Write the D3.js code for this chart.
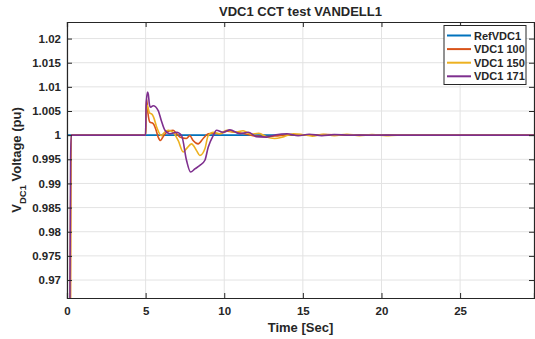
<!DOCTYPE html>
<html><head><meta charset="utf-8">
<script src="https://cdn.jsdelivr.net/npm/d3@7"></script>
<style>
body{margin:0;background:#fff;}
text{font-family:"Liberation Sans",Arial,sans-serif;font-weight:bold;fill:#262626;}
</style></head>
<body><svg id="chart" width="535" height="339"></svg>
<script>
// ---- data ----
const seriesNames = ["RefVDC1", "VDC1 100", "VDC1 150", "VDC1 171"];
const seriesColors = ["#0072BD", "#D95319", "#EDB120", "#7E2F8E"];
const xTicks = [0, 5, 10, 15, 20, 25];
const yTicks = [0.97, 0.975, 0.98, 0.985, 0.99, 0.995, 1, 1.005, 1.01, 1.015, 1.02];
const yTickLabels = ["0.97","0.975","0.98","0.985","0.99","0.995","1","1.005","1.01","1.015","1.02"];

const tRef = [0, 29.7];
const vRef = [1, 1];

const t100 = [0,0.17,0.22,0.26,5.0,5.02,5.06,5.15,5.27,5.48,5.65,5.8,5.95,6.1,6.33,6.75,7.0,7.18,7.6,7.81,8.02,8.34,8.66,8.98,9.3,9.7,10.2,10.7,11.3,12.0,12.7,13.5,14.5,15.5,16.5,18,20,29.7];
const v100 = [0.9,0.9,0.97,1.0,1.0,1.004,1.0075,1.0045,1.0027,1.0024,1.0012,0.9996,0.9989,0.9996,1.0006,1.001,1.0002,0.9996,0.9993,0.9999,0.9989,0.9982,0.9993,1.0003,1.0004,1.0003,1.0008,1.0006,1.0003,0.9998,0.9997,0.9999,1.0001,1.0,1.0001,1.0,1.0,1.0];

const t150 = [0,0.17,0.22,0.26,5.0,5.03,5.1,5.25,5.38,5.5,5.7,6.0,6.2,6.44,6.75,7.07,7.39,7.6,7.92,8.24,8.45,8.77,8.98,9.3,9.72,10.15,10.67,11.2,11.7,12.2,12.7,13.2,13.8,14.4,15.0,15.6,16.3,17.0,17.8,18.6,19.4,20.3,21,29.7];
const v150 = [0.9,0.9,0.97,1.0,1.0,1.004,1.0062,1.0046,1.0044,1.0038,1.0017,0.9999,1.0006,1.001,1.0006,0.9989,0.9965,0.9972,0.9982,0.9968,0.9958,0.9972,0.9999,1.0006,1.0003,1.001,1.0006,1.0009,1.0002,1.0004,0.9996,0.9993,0.9997,1.0003,1.0001,0.9998,1.0002,0.9999,1.0002,0.9999,1.0001,0.9999,1.0,1.0];

const t171 = [0,0.16,0.19,0.23,0.27,5.0,5.03,5.12,5.17,5.25,5.32,5.48,5.8,6.0,6.23,6.54,6.97,7.29,7.6,7.86,8.13,8.45,8.77,8.98,9.3,9.51,9.93,10.36,10.99,11.52,12.05,12.69,13.3,14.0,14.7,15.4,16.2,17.0,18.0,19.0,29.7];
const v171 = [0.9,0.9,0.97,0.995,1.0,1.0,1.006,1.0089,1.0085,1.0062,1.0058,1.0061,1.0051,1.003,1.001,1.0003,1.0006,0.9999,0.9948,0.99236,0.993,0.99374,0.9948,0.9975,0.99994,1.001,1.0006,1.0011,1.0003,1.0006,0.9997,0.9996,1.0001,1.0003,0.9999,1.0002,0.9999,1.0001,1.0,1.0,1.0];

const seriesT = [tRef, t100, t150, t171];
const seriesV = [vRef, v100, v150, v171];

// ---- layout ----
const svg = d3.select("#chart");
const L = 67, R = 534, T = 22, B = 298;
const x = d3.scaleLinear().domain([0, 29.7]).range([L, R]);
const y = d3.scaleLinear().domain([0.96628, 1.02343]).range([B, T]);

svg.append("defs").append("clipPath").attr("id","clip")
  .append("rect").attr("x",L).attr("y",T).attr("width",R-L).attr("height",B-T);

// grid
const grid = svg.append("g").attr("stroke","#e3e3e3").attr("stroke-width",1);
xTicks.forEach(d=>grid.append("line").attr("x1",x(d)).attr("x2",x(d)).attr("y1",T).attr("y2",B));
yTicks.forEach(d=>grid.append("line").attr("x1",L).attr("x2",R).attr("y1",y(d)).attr("y2",y(d)));

// lines
const line = d3.line().x(d=>x(d[0])).y(d=>y(d[1])).curve(d3.curveMonotoneX);
const lines = svg.append("g").attr("clip-path","url(#clip)");
seriesT.forEach((ts,i)=>{
  const pts = ts.map((t,j)=>[t, seriesV[i][j]]);
  lines.append("path").attr("d", line(pts)).attr("fill","none")
    .attr("stroke", seriesColors[i]).attr("stroke-width",1.6).attr("stroke-linejoin","round");
});

// axes
const axCol = "#262626";
const fmtY = d => yTickLabels[yTicks.indexOf(d)];
const gx = svg.append("g").attr("transform",`translate(0,${B})`)
  .call(d3.axisBottom(x).tickValues(xTicks).tickSize(-5).tickPadding(9).tickFormat(d3.format("d")));
const gxt = svg.append("g").attr("transform",`translate(0,${T})`)
  .call(d3.axisTop(x).tickValues(xTicks).tickSize(-5).tickFormat(""));
const gy = svg.append("g").attr("transform",`translate(${L},0)`)
  .call(d3.axisLeft(y).tickValues(yTicks).tickSize(-5).tickPadding(6).tickFormat(fmtY));
const gyr = svg.append("g").attr("transform",`translate(${R},0)`)
  .call(d3.axisRight(y).tickValues(yTicks).tickSize(-5).tickFormat(""));
[gx,gxt,gy,gyr].forEach(g=>{
  g.selectAll("path").attr("stroke",axCol).attr("stroke-width",1.2);
  g.selectAll("line").attr("stroke",axCol);
  g.selectAll("text").attr("fill",axCol).style("font-size","11.5px").style("font-family","'Liberation Sans',Arial,sans-serif").style("font-weight","bold");
});

// title & labels
svg.append("text").attr("x",(L+R)/2).attr("y",16).attr("text-anchor","middle")
  .style("font-size","13px").text("VDC1 CCT test VANDELL1");
svg.append("text").attr("x",(L+R)/2).attr("y",332).attr("text-anchor","middle")
  .style("font-size","13px").text("Time [Sec]");
const yl = svg.append("text").attr("transform",`translate(21,${(T+B)/2}) rotate(-90)`)
  .attr("text-anchor","middle").style("font-size","13px");
yl.append("tspan").text("V");
yl.append("tspan").attr("dy",5).style("font-size","9.5px").text("DC1");
yl.append("tspan").attr("dy",-5).text(" Voltage (pu)");

// legend
const lg = svg.append("g");
lg.append("rect").attr("x",444).attr("y",25.5).attr("width",82).attr("height",59)
  .attr("fill","#fff").attr("stroke","#262626").attr("stroke-width",1);
seriesNames.forEach((n,i)=>{
  const yy = 35.5 + i*13.6;
  lg.append("line").attr("x1",447).attr("x2",471).attr("y1",yy).attr("y2",yy)
    .attr("stroke",seriesColors[i]).attr("stroke-width",2);
  lg.append("text").attr("x",474).attr("y",yy+4).style("font-size","11px").text(n);
});
</script></body></html>
